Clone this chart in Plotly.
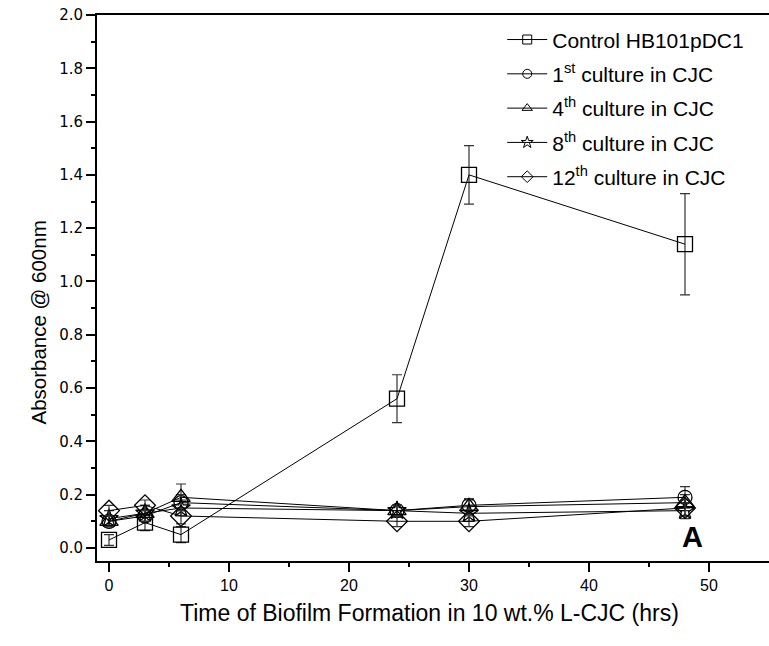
import plotly.graph_objects as go

hours = [0, 3, 6, 24, 30, 48]

control = [0.03, 0.095, 0.05, 0.56, 1.40, 1.14]
control_err = [0.02, 0.03, 0.03, 0.09, 0.11, 0.19]
c1 = [0.10, 0.12, 0.17, 0.14, 0.16, 0.19]
c1_err = [0.02, 0.02, 0.03, 0.02, 0.02, 0.04]
c4 = [0.10, 0.13, 0.19, 0.14, 0.155, 0.17]
c4_err = [0.02, 0.03, 0.05, 0.02, 0.03, 0.03]
c8 = [0.11, 0.13, 0.15, 0.14, 0.13, 0.14]
c8_err = [0.03, 0.03, 0.03, 0.02, 0.03, 0.03]
c12 = [0.14, 0.16, 0.12, 0.10, 0.10, 0.15]
c12_err = [0.02, 0.02, 0.03, 0.02, 0.02, 0.03]

names = ["Control HB101pDC1", "1<sup>st</sup> culture in CJC", "4<sup>th</sup> culture in CJC",
         "8<sup>th</sup> culture in CJC", "12<sup>th</sup> culture in CJC"]
series = [control, c1, c4, c8, c12]
errors = [control_err, c1_err, c4_err, c8_err, c12_err]
symbols = ["square-open", "circle-open", "triangle-up-open", "star-open", "diamond-open"]
sizes = [15, 14, 16, 14, 16]

FONT = "Liberation Sans, Arial, sans-serif"

fig = go.Figure()
for name, ys, es, sym, sz in zip(names, series, errors, symbols, sizes):
    fig.add_trace(go.Scatter(
        x=hours, y=ys, mode="lines+markers", showlegend=False,
        line=dict(color="black", width=1),
        marker=dict(symbol=sym, size=sz, color="black", line=dict(width=1.3, color="black")),
        error_y=dict(type="data", array=es, visible=True, color="#333333", thickness=1.2, width=5),
    ))
for i, (name, sym) in enumerate(zip(names, symbols)):
    fig.add_trace(go.Scatter(
        x=[None], y=[None], mode="lines+markers", name=name, legendgroup=f"g{i}",
        line=dict(color="black", width=1),
        marker=dict(symbol=sym, size=9, color="black", line=dict(width=1, color="black")),
    ))

fig.add_annotation(text="<b>A</b>", x=48.6, y=0.04, xref="x", yref="y", showarrow=False,
                   font=dict(family=FONT, size=29, color="black"))
fig.add_annotation(text="Absorbance @ 600nm", x=-0.107, y=0.436, xref="paper", yref="paper",
                   textangle=-90, showarrow=False,
                   font=dict(family=FONT, size=20.5, color="black"))
fig.add_annotation(text="Time of Biofilm Formation in 10 wt.% L-CJC (hrs)", x=0.4955, y=-0.1227,
                   xref="paper", yref="paper", showarrow=False,
                   font=dict(family=FONT, size=23, color="black"))

fig.update_layout(
    width=769, height=646,
    margin=dict(l=97, r=0, t=15, b=85),
    paper_bgcolor="white", plot_bgcolor="white",
    font=dict(family=FONT, color="black"),
    legend=dict(x=0.603, y=0.992, xanchor="left", yanchor="top", bgcolor="rgba(0,0,0,0)",
                font=dict(family=FONT, size=21, color="black"), tracegroupgap=4,
                itemwidth=40),
)
fig.update_xaxes(
    range=[-1, 55], showgrid=False, zeroline=False, showline=True, linecolor="black", linewidth=2,
    mirror=True, ticks="outside", ticklen=9, tickwidth=2, tickcolor="black",
    tickvals=[0, 10, 20, 30, 40, 50], tickfont=dict(family=FONT, size=16),
    minor=dict(tickvals=[5, 15, 25, 35, 45], ticks="outside", ticklen=4, tickwidth=2, tickcolor="black"),
)
fig.update_yaxes(
    range=[-0.049, 2.0], showgrid=False, zeroline=False, showline=True, linecolor="black", linewidth=2,
    ticks="outside", ticklen=9, tickwidth=2, tickcolor="black",
    tickvals=[0, 0.2, 0.4, 0.6, 0.8, 1.0, 1.2, 1.4, 1.6, 1.8, 2.0], tickformat=".1f",
    tickfont=dict(family="DejaVu Sans, sans-serif", size=15),
    minor=dict(tickvals=[0.1, 0.3, 0.5, 0.7, 0.9, 1.1, 1.3, 1.5, 1.7, 1.9], ticks="outside",
               ticklen=4, tickwidth=2, tickcolor="black"),
)

fig.write_html("out.html")
